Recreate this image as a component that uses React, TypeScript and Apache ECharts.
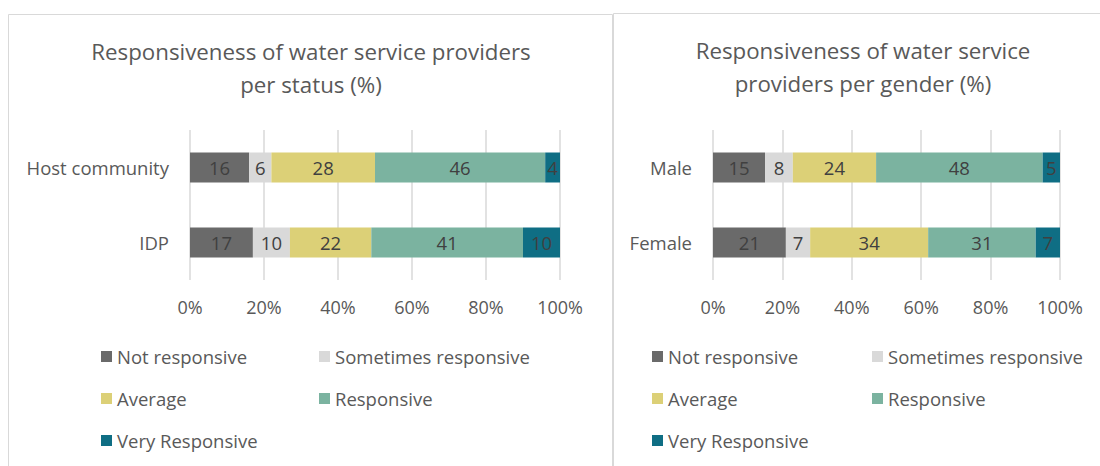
import React, { useEffect, useRef } from "react";
import * as echarts from "echarts";

const seriesNames = ["Not responsive", "Sometimes responsive", "Average", "Responsive", "Very Responsive"];
const colors = ["#6a6a6a", "#d9d9d9", "#dcd077", "#7bb3a0", "#0f6e84"];

const statusCategories = ["Host community", "IDP"];
const statusNotResponsive = [16, 17];
const statusSometimes = [6, 10];
const statusAverage = [28, 22];
const statusResponsive = [46, 41];
const statusVery = [4, 10];

const genderCategories = ["Male", "Female"];
const genderNotResponsive = [15, 21];
const genderSometimes = [8, 7];
const genderAverage = [24, 34];
const genderResponsive = [48, 31];
const genderVery = [5, 7];

const titleStatus = "Responsiveness of water service providers\nper status (%)";
const titleGender = "Responsiveness of water service\nproviders per gender (%)";

const FONT = "'Open Sans', sans-serif";
const TEXT = "#595959";

export default function App() {
  const ref = useRef<HTMLDivElement>(null);
  useEffect(() => {
    if (!ref.current) return;
    const chart = echarts.init(ref.current, undefined, { renderer: "svg" });
    const statusData = [statusNotResponsive, statusSometimes, statusAverage, statusResponsive, statusVery];
    const genderData = [genderNotResponsive, genderSometimes, genderAverage, genderResponsive, genderVery];

    const mkSeries = (data: number[][], idx: number, stack: string) =>
      data.map((vals, i) => ({
        name: seriesNames[i],
        type: "bar",
        stack,
        xAxisIndex: idx,
        yAxisIndex: idx,
        barWidth: 30,
        data: vals,
        itemStyle: { color: colors[i] },
        label: {
          show: true,
          position: "inside",
          color: "#404040",
          fontSize: 18.5,
          fontFamily: FONT,
        },
      }));

    const xAxis = (gridIndex: number) => ({
      type: "value",
      gridIndex,
      min: 0,
      max: 100,
      interval: 20,
      axisLabel: { formatter: "{value}%", color: TEXT, fontSize: 18, fontFamily: FONT, margin: 18 },
      axisLine: { show: false },
      axisTick: { show: false },
      splitLine: { show: true, lineStyle: { color: "#d9d9d9", width: 1.5 } },
    });
    const yAxis = (gridIndex: number, data: string[]) => ({
      type: "category",
      gridIndex,
      inverse: true,
      data,
      axisLabel: { color: TEXT, fontSize: 18.5, fontFamily: FONT, margin: 21 },
      axisLine: { show: false },
      axisTick: { show: false },
    });

    const legendPos = [
      { x: 101, y: 358 },
      { x: 319, y: 358 },
      { x: 101, y: 400 },
      { x: 319, y: 400 },
      { x: 101, y: 442 },
    ];
    const legendPosR = [
      { x: 652, y: 358 },
      { x: 872, y: 358 },
      { x: 652, y: 400 },
      { x: 872, y: 400 },
      { x: 652, y: 442 },
    ];
    const legends: any[] = [];
    [legendPos, legendPosR].forEach((pos) => {
      pos.forEach((p, i) => {
        legends.push({
          data: [seriesNames[i]],
          left: p.x,
          top: p.y - 11,
          padding: 0,
          icon: "rect",
          itemWidth: 11,
          itemHeight: 11,
          selectedMode: false,
          textStyle: { color: TEXT, fontSize: 18.5, fontFamily: FONT, padding: [0, 0, 0, 0] },
        });
      });
    });

    chart.setOption({
      animation: false,
      backgroundColor: "#ffffff",
      graphic: [
        { type: "rect", shape: { x: 8.5, y: 14.5, width: 604, height: 600 }, style: { fill: "none", stroke: "#d9d9d9", lineWidth: 1 } },
        { type: "rect", shape: { x: 613.5, y: 13.5, width: 600, height: 600 }, style: { fill: "none", stroke: "#d9d9d9", lineWidth: 1 } },
        {
          type: "text",
          x: 311,
          y: 68,
          style: { text: titleStatus, fill: TEXT, fontSize: 22.3, fontFamily: FONT, align: "center", verticalAlign: "middle", lineHeight: 33 },
        },
        {
          type: "text",
          x: 863,
          y: 67,
          style: { text: titleGender, fill: TEXT, fontSize: 22.3, fontFamily: FONT, align: "center", verticalAlign: "middle", lineHeight: 33 },
        },
      ],
      legend: legends,
      grid: [
        { left: 190, width: 370, top: 130, height: 150 },
        { left: 713, width: 347, top: 130, height: 150 },
      ],
      xAxis: [xAxis(0), xAxis(1)],
      yAxis: [yAxis(0, statusCategories), yAxis(1, genderCategories)],
      series: [...mkSeries(statusData, 0, "status"), ...mkSeries(genderData, 1, "gender")],
    });
    return () => chart.dispose();
  }, []);
  return <div ref={ref} style={{ position: "fixed", left: 0, top: 0, width: 1100, height: 466 }} />;
}
